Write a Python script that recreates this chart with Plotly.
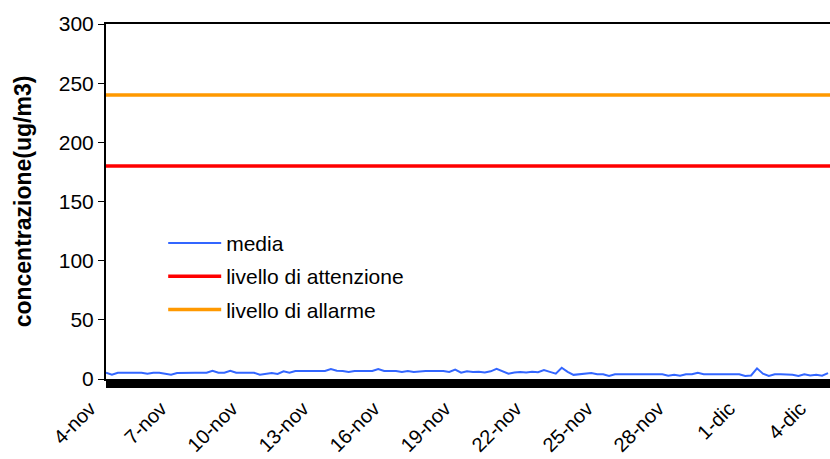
import pandas as pd
import plotly.graph_objects as go

# ---- data -------------------------------------------------------------
start = "2008-11-04 00:00"
step = "6h"
media = [
    5.3, 3.6, 5.3, 5.3, 5.3, 5.3, 5.3, 4.5, 5.3, 5.3, 4.5, 3.6,
    5.0, 5.3, 5.3, 5.3, 5.3, 5.3, 7.0, 5.3, 5.3, 7.0, 5.3, 5.3,
    5.3, 5.3, 3.6, 4.2, 5.0, 4.2, 6.5, 5.3, 6.8, 6.8, 6.8, 6.8,
    6.8, 6.8, 8.5, 7.0, 6.8, 6.0, 6.8, 6.8, 6.8, 6.8, 8.5, 6.8,
    6.8, 6.8, 6.0, 6.8, 6.0, 6.5, 6.8, 6.8, 6.8, 6.8, 6.0, 8.0,
    5.3, 6.5, 6.0, 6.2, 5.5, 6.5, 8.5, 6.5, 4.5, 5.5, 6.0, 5.5,
    6.2, 5.8, 7.5, 6.0, 4.5, 9.5, 6.0, 3.5, 4.0, 4.0, 5.0, 4.0,
    4.0, 2.5, 4.0, 4.0, 4.0, 4.0, 4.0, 4.0, 4.0, 4.0, 4.0, 2.8,
    3.5, 2.8, 4.0, 4.0, 5.3, 4.0, 4.0, 4.0, 4.0, 4.0, 4.0, 4.0,
    2.5, 3.0, 9.0, 4.5, 2.5, 4.0, 4.0, 4.0, 3.5, 2.5, 4.0, 3.0,
    3.5, 2.8, 5.0,
]
livello_attenzione = 180
livello_allarme = 240

tick_dates = ["2008-11-04", "2008-11-07", "2008-11-10", "2008-11-13",
              "2008-11-16", "2008-11-19", "2008-11-22", "2008-11-25",
              "2008-11-28", "2008-12-01", "2008-12-04"]
tick_labels = ["4-nov", "7-nov", "10-nov", "13-nov", "16-nov", "19-nov",
               "22-nov", "25-nov", "28-nov", "1-dic", "4-dic"]
x_end = "2008-12-04 14:00"

y_title = "concentrazione(ug/m3)"
names = ["media", "livello di attenzione", "livello di allarme"]

# ---- figure -------------------------------------------------------------
x = pd.date_range(start, periods=len(media), freq=step)
x_full = [pd.Timestamp(start), pd.Timestamp(x_end)]

FONT = "Liberation Sans, Arial, sans-serif"

fig = go.Figure()
fig.add_trace(go.Scatter(x=x, y=media, mode="lines", name=names[0],
                         legendgroup="a",
                         line=dict(color="#3366FF", width=2)))
fig.add_trace(go.Scatter(x=x_full, y=[livello_attenzione] * 2, mode="lines",
                         name=names[1], legendgroup="b",
                         line=dict(color="#FF0000", width=3.5)))
fig.add_trace(go.Scatter(x=x_full, y=[livello_allarme] * 2, mode="lines",
                         name=names[2], legendgroup="c",
                         line=dict(color="#FF9900", width=3.5)))

fig.update_layout(
    width=830, height=459,
    margin=dict(l=106, r=0, t=24, b=80),
    paper_bgcolor="white", plot_bgcolor="white",
    font=dict(family=FONT, size=21, color="black"),
    showlegend=True,
    legend=dict(x=0.079, y=0.44, xanchor="left", yanchor="top",
                bgcolor="rgba(0,0,0,0)", font=dict(size=21),
                itemwidth=53,
                traceorder="grouped", tracegroupgap=3),
)
fig.update_xaxes(
    type="date", automargin=False,
    range=[pd.Timestamp(start), pd.Timestamp(x_end)],
    tickvals=pd.to_datetime(tick_dates), ticktext=tick_labels,
    tickangle=-45, ticks="outside", ticklen=7, tickwidth=1, tickcolor="black",
    ticklabelshift=-16, ticklabelstandoff=1,
    minor=dict(dtick=3600000, tick0=start, ticks="outside", ticklen=7,
               tickwidth=1, tickcolor="black", showgrid=False),
    showline=True, linecolor="black", linewidth=2, mirror=True,
    showgrid=False, zeroline=False,
    tickfont=dict(size=20),
)
fig.update_yaxes(
    range=[0, 300], dtick=50, tick0=0, automargin=False,
    ticks="outside", ticklen=6, tickwidth=1, tickcolor="black",
    showline=True, linecolor="black", linewidth=2,
    showgrid=False, zeroline=False,
    tickfont=dict(size=21),
    title=dict(text="<b>" + y_title + "</b>", font=dict(size=23), standoff=21),
)

fig.write_html(
    "out.html",
    config={"displayModeBar": False},
    post_script="document.body.style.margin='0';"
                "document.body.style.overflow='hidden';",
)
